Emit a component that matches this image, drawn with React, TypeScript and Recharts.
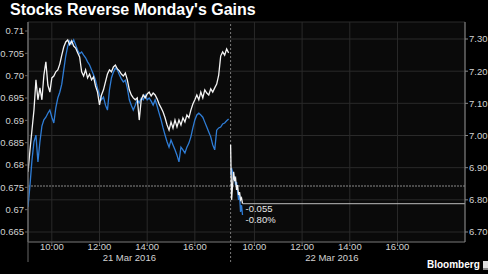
import React from "react";
import {
  ComposedChart,
  Line,
  XAxis,
  YAxis,
  CartesianGrid,
  ReferenceLine,
  ReferenceDot,
} from "recharts";

const title = "Stocks Reverse Monday's Gains";

// timeline in minutes, overnight gap removed (day 2 opens at 510)
const dayStarts = [0, 510];
const dayCenters = [255, 765];
const dayLabels = ["21 Mar 2016", "22 Mar 2016"];
const timeTicks = [60, 180, 300, 420, 570, 690, 810, 930];
const timeLabels = ["10:00", "12:00", "14:00", "16:00", "10:00", "12:00", "14:00", "16:00"];
const day1Step = 5;
const day2Step = 2.5;

// white series (right axis)
const day1White = [
  6.887, 6.955, 7.017, 7.079, 7.173, 7.111, 7.148, 7.111, 7.188, 7.229,
  7.157, 7.135, 7.179, 7.185, 7.198, 7.204, 7.222, 7.25, 7.275, 7.291,
  7.297, 7.282, 7.294, 7.278, 7.272, 7.257, 7.244, 7.198, 7.185, 7.204,
  7.179, 7.191, 7.173, 7.182, 7.154, 7.135, 7.095, 7.126, 7.142, 7.167,
  7.191, 7.204, 7.198, 7.213, 7.219, 7.207, 7.201, 7.191, 7.185, 7.194,
  7.173, 7.142, 7.126, 7.117, 7.111, 7.117, 7.048, 7.111, 7.126, 7.117,
  7.129, 7.135, 7.123, 7.132, 7.126, 7.114, 7.098, 7.086, 7.073, 7.055,
  7.033, 7.017, 7.042, 7.023, 7.048, 7.027, 7.048, 7.033, 7.055, 7.042,
  7.064, 7.055, 7.079, 7.098, 7.111, 7.126, 7.111, 7.135, 7.117, 7.142,
  7.132, 7.126, 7.145, 7.135, 7.148, 7.16, 7.188, 7.247, 7.26, 7.25,
  7.269, 7.257,
];
const day2White = [6.971, 6.8, 6.846, 6.887, 6.862, 6.868, 6.831, 6.846, 6.815, 6.824, 6.8, 6.806, 6.788];

// blue series (left axis)
const day1Blue = [
  0.6706, 0.6755, 0.6811, 0.6852, 0.6867, 0.6807, 0.6852, 0.6887, 0.6901, 0.6907,
  0.6916, 0.6923, 0.6907, 0.6894, 0.6928, 0.695, 0.6963, 0.6981, 0.7013, 0.7044,
  0.7066, 0.7078, 0.7071, 0.708, 0.7069, 0.7057, 0.7049, 0.7053, 0.7046, 0.704,
  0.7031, 0.7024, 0.7013, 0.7002, 0.699, 0.6972, 0.6957, 0.6946, 0.6952, 0.6934,
  0.6923, 0.6968, 0.6995, 0.7008, 0.7017, 0.7013, 0.7002, 0.6993, 0.6986, 0.699,
  0.6972, 0.6946, 0.6934, 0.6923, 0.6934, 0.6946, 0.6939, 0.695, 0.6946, 0.6957,
  0.6946, 0.695, 0.6943, 0.6934, 0.6946, 0.6932, 0.6916, 0.6901, 0.6883, 0.6867,
  0.6852, 0.684, 0.6856, 0.6845, 0.6834, 0.6822, 0.6807, 0.684, 0.6834, 0.6827,
  0.684, 0.6849, 0.6863, 0.6883, 0.6901, 0.6912, 0.6916, 0.6912, 0.6907, 0.6896,
  0.6885, 0.6874, 0.6863, 0.6845, 0.6834, 0.6878, 0.6883, 0.6885, 0.6892, 0.6894,
  0.6899, 0.6903,
];
const day2Blue = [0.6778, 0.6793, 0.6784, 0.6766, 0.6775, 0.6755, 0.6762, 0.674, 0.6722, 0.6733, 0.6695, 0.671, 0.6688];

const leftTicks = [0.665, 0.67, 0.675, 0.68, 0.685, 0.69, 0.695, 0.7, 0.705, 0.71];
const leftLabels = ["0.665", "0.67", "0.675", "0.68", "0.685", "0.69", "0.695", "0.70", "0.705", "0.71"];
const rightTicks = [6.7, 6.8, 6.9, 7.0, 7.1, 7.2, 7.3];
const prevClose = 6.843;
const lastValue = 6.788;
const changeLabels = ["-0.055", "-0.80%"];

const rows: any[] = [];
day1White.forEach((w, i) => rows.push({ t: dayStarts[0] + i * day1Step, white: w, blue: day1Blue[i] }));
rows.push({ t: dayStarts[1] - 2.5, white: null, blue: null });
day2White.forEach((w, i) => rows.push({ t: dayStarts[1] + i * day2Step, white: w, blue: day2Blue[i] }));
const lastT = rows[rows.length - 1].t;

const X_MAX = 1100;
const tickStyle = { fill: "#d2d2d2", fontSize: 9.5, fontFamily: "Liberation Sans, Arial, sans-serif" };

const ChangeLabel = (props: any) => {
  const vb = props.viewBox || {};
  const cx = vb.x + (vb.width || 0) / 2;
  const cy = vb.y + (vb.height || 0) / 2;
  return (
    <g style={tickStyle as any}>
      <text x={cx + 3} y={cy + 8.5} fill="#e6e6e6" fontSize={9.5}>{changeLabels[0]}</text>
      <text x={cx + 3} y={cy + 19.5} fill="#e6e6e6" fontSize={9.5}>{changeLabels[1]}</text>
    </g>
  );
};

export default function App() {
  return (
    <div style={{ position: "absolute", left: 0, top: 0, width: 488, height: 274, background: "#000", overflow: "hidden" }}>
      <div
        style={{
          position: "absolute",
          left: 10,
          top: 1,
          color: "#fff",
          fontFamily: "Liberation Sans, Arial, sans-serif",
          fontWeight: "bold",
          fontSize: 16,
          lineHeight: "18px",
          whiteSpace: "nowrap",
        }}
      >
        {title}
      </div>
      <ComposedChart
        width={488}
        height={274}
        data={rows}
        margin={{ top: 22, right: 0, left: 0, bottom: 6 }}
        style={{ position: "absolute", left: 0, top: 0 }}
      >
        <CartesianGrid yAxisId="right" stroke="#2a2a2a" fill="#0a0a0a" />
        <XAxis
          dataKey="t"
          type="number"
          domain={[0, X_MAX]}
          allowDataOverflow
          ticks={timeTicks}
          tickFormatter={(v: number) => timeLabels[timeTicks.indexOf(v)]}
          height={12}
          tickSize={3}
          tickMargin={-2}
          stroke="#666"
          tick={tickStyle}
        />
        <XAxis
          xAxisId="date"
          dataKey="t"
          type="number"
          domain={[0, X_MAX]}
          allowDataOverflow
          ticks={dayCenters}
          tickFormatter={(v: number) => dayLabels[dayCenters.indexOf(v)]}
          height={14}
          tickSize={0}
          tickMargin={0}
          axisLine={false}
          tickLine={false}
          tick={tickStyle}
        />
        <YAxis
          yAxisId="left"
          orientation="left"
          width={28}
          domain={[0.66276, 0.71202]}
          allowDataOverflow
          ticks={leftTicks}
          tickFormatter={(v: number) => leftLabels[leftTicks.indexOf(v)]}
          tickSize={3}
          tickMargin={1}
          stroke="#666"
          tick={tickStyle}
        />
        <YAxis
          yAxisId="right"
          orientation="right"
          width={23}
          domain={[6.6689, 7.3529]}
          allowDataOverflow
          ticks={rightTicks}
          tickFormatter={(v: number) => v.toFixed(2)}
          tickSize={3}
          tickMargin={1}
          stroke="#888"
          tick={tickStyle}
        />
        <ReferenceLine yAxisId="right" y={prevClose} stroke="#8a8a8a" strokeDasharray="2 1" />
        <ReferenceLine
          yAxisId="right"
          segment={[{ x: dayStarts[0], y: 6.6067 }, { x: dayStarts[0], y: 7.3529 }]}
          stroke="#666"
          ifOverflow="visible"
        />
        <ReferenceLine
          yAxisId="right"
          segment={[{ x: dayStarts[1], y: 6.6067 }, { x: dayStarts[1], y: 7.3529 }]}
          stroke="#7a7a7a"
          strokeDasharray="2 2"
          ifOverflow="visible"
        />
        <Line
          yAxisId="left"
          dataKey="blue"
          type="linear"
          stroke="#2f7dd6"
          strokeWidth={1.3}
          dot={false}
          connectNulls={false}
          isAnimationActive={false}
        />
        <Line
          yAxisId="right"
          dataKey="white"
          type="linear"
          stroke="#f4f4f4"
          strokeWidth={1.3}
          dot={false}
          connectNulls={false}
          isAnimationActive={false}
        />
        <ReferenceLine
          yAxisId="right"
          segment={[{ x: lastT, y: lastValue }, { x: X_MAX, y: lastValue }]}
          stroke="#bdbdbd"
        />
        <ReferenceDot yAxisId="right" x={lastT} y={lastValue} r={0} stroke="none" fill="none" label={ChangeLabel} />
      </ComposedChart>
      <div
        style={{
          position: "absolute",
          left: 427,
          top: 259,
          color: "#fff",
          fontFamily: "Liberation Sans, Arial, sans-serif",
          fontSize: 10,
          fontWeight: 600,
          lineHeight: "12px",
          whiteSpace: "nowrap",
          display: "flex",
          alignItems: "center",
        }}
      >
        Bloomberg
        <span
          style={{
            display: "inline-block",
            width: 7,
            height: 7,
            marginLeft: 3,
            background: "#ddd",
            borderBottom: "2px solid #888",
          }}
        />
      </div>
    </div>
  );
}
